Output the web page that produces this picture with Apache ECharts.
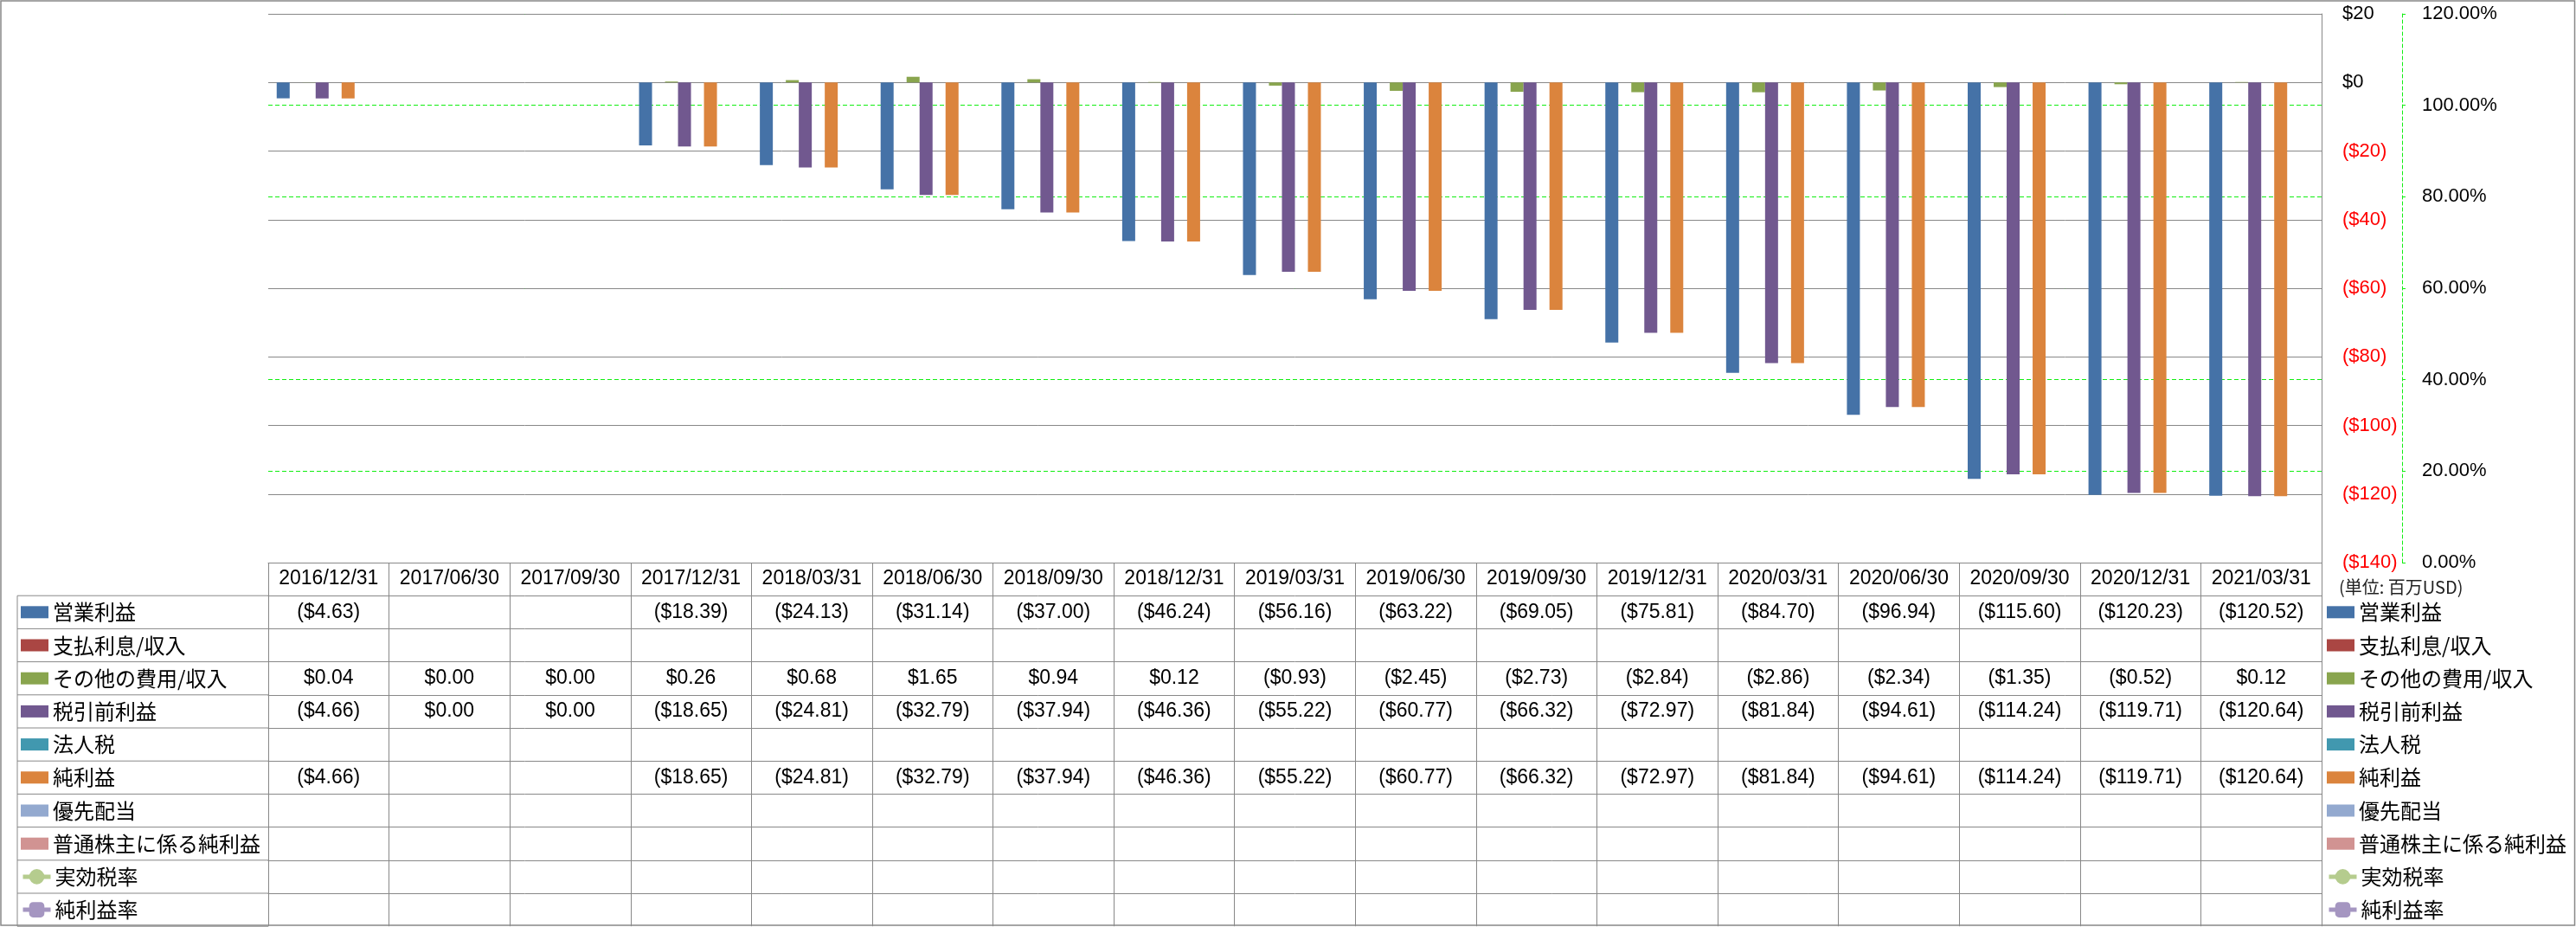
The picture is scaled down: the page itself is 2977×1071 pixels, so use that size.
<!DOCTYPE html>
<html><head><meta charset="utf-8">
<script src="https://cdn.jsdelivr.net/npm/echarts@6/dist/echarts.min.js"></script>
<style>html,body{margin:0;padding:0;background:#fff}#c{width:2977px;height:1071px}</style>
</head><body><div id="c"></div>
<script>
// ---- data ----
const categories = ['2016/12/31','2017/06/30','2017/09/30','2017/12/31','2018/03/31','2018/06/30','2018/09/30','2018/12/31','2019/03/31','2019/06/30','2019/09/30','2019/12/31','2020/03/31','2020/06/30','2020/09/30','2020/12/31','2021/03/31'];
const operatingIncome = [-4.63, null, null, -18.39, -24.13, -31.14, -37.00, -46.24, -56.16, -63.22, -69.05, -75.81, -84.70, -96.94, -115.60, -120.23, -120.52];
const interestExpense = [null, null, null, null, null, null, null, null, null, null, null, null, null, null, null, null, null];
const otherIncome = [0.04, 0.00, 0.00, 0.26, 0.68, 1.65, 0.94, 0.12, -0.93, -2.45, -2.73, -2.84, -2.86, -2.34, -1.35, -0.52, 0.12];
const pretaxIncome = [-4.66, 0.00, 0.00, -18.65, -24.81, -32.79, -37.94, -46.36, -55.22, -60.77, -66.32, -72.97, -81.84, -94.61, -114.24, -119.71, -120.64];
const incomeTax = [null, null, null, null, null, null, null, null, null, null, null, null, null, null, null, null, null];
const netIncome = [-4.66, null, null, -18.65, -24.81, -32.79, -37.94, -46.36, -55.22, -60.77, -66.32, -72.97, -81.84, -94.61, -114.24, -119.71, -120.64];
const preferredDividends = [null, null, null, null, null, null, null, null, null, null, null, null, null, null, null, null, null];
const netIncomeCommon = [null, null, null, null, null, null, null, null, null, null, null, null, null, null, null, null, null];
const effectiveTaxRate = [null, null, null, null, null, null, null, null, null, null, null, null, null, null, null, null, null];
const netMargin = [null, null, null, null, null, null, null, null, null, null, null, null, null, null, null, null, null];

const barNames = ['営業利益','支払利息/収入','その他の費用/収入','税引前利益','法人税','純利益','優先配当','普通株主に係る純利益'];
const lineNames = ['実効税率','純利益率'];
const barData = [operatingIncome, interestExpense, otherIncome, pretaxIncome, incomeTax, netIncome, preferredDividends, netIncomeCommon];
const lineData = [effectiveTaxRate, netMargin];
const barColors = ['#4572a7','#aa4643','#89a54e','#71588f','#4198af','#db843d','#93a9cf','#d19392'];
const lineColors = ['#b5cc8e','#a596c1'];
const lineSymbols = ['circle','roundRect'];

const dollarAxis = {min: -140, max: 20, interval: 20};
const pctAxis = {min: 0, max: 1.2, interval: 0.2};
const unitLabel = '(単位: 百万USD)';

// ---- layout / style ----
const GRAY = '#888888';
const GREEN = '#11ee11';
const FONT = "'Liberation Sans', 'Noto Sans CJK JP', sans-serif";
const JFONT = "'Noto Sans CJK JP', sans-serif";
const PLOT_L = 310, PLOT_R = 2683, PLOT_T = 16, PLOT_B = 650;
const ROW_H = 38.2;
const W = 2977, H = 1071;
const TABLE_FS = 23;

function fmtMoney(v) {
  if (v === null || v === undefined) return '';
  return v < 0 ? '($' + (-v).toFixed(2) + ')' : '$' + v.toFixed(2);
}
function fmtPct(v) {
  if (v === null || v === undefined) return '';
  return (v * 100).toFixed(2) + '%';
}

const rows = barData.concat(lineData);
const xAxes = [{
  type: 'category', data: categories, position: 'bottom', z: 3,
  axisLine: {show: true, onZero: false, lineStyle: {color: GRAY, width: 1}},
  axisTick: {show: true, interval: 0, alignWithLabel: false, length: ROW_H * (rows.length + 1), lineStyle: {color: GRAY, width: 1}},
  splitLine: {show: false},
  axisLabel: {interval: 0, margin: 0, lineHeight: ROW_H, fontSize: TABLE_FS, fontFamily: FONT, color: '#000'}
}];
rows.forEach((arr, k) => {
  xAxes.push({
    type: 'category', data: categories, position: 'bottom', offset: ROW_H * (k + 1), z: 3,
    axisLine: {show: true, onZero: false, lineStyle: {color: GRAY, width: 1}},
    axisTick: {show: false}, splitLine: {show: false},
    axisLabel: {interval: 0, margin: 0, lineHeight: ROW_H, fontSize: TABLE_FS, fontFamily: FONT, color: '#000',
      formatter: (val, idx) => (k >= barData.length ? fmtPct(arr[idx]) : fmtMoney(arr[idx]))}
  });
});

const series = [];
barNames.forEach((n, i) => series.push({
  name: n, type: 'bar', xAxisIndex: 0, yAxisIndex: 0, data: barData[i],
  itemStyle: {color: barColors[i]}, barGap: '0%', barCategoryGap: '14%'
}));
lineNames.forEach((n, i) => series.push({
  name: n, type: 'line', xAxisIndex: 0, yAxisIndex: 1, data: lineData[i],
  symbol: lineSymbols[i], symbolSize: 18, itemStyle: {color: lineColors[i]},
  lineStyle: {color: lineColors[i], width: 5}
}));

const legendText = {fontSize: 24, fontFamily: JFONT, color: '#000', lineHeight: ROW_H};
function legends(left) {
  return [
    {data: barNames, orient: 'vertical', left: left, top: PLOT_B + ROW_H, itemWidth: 32, itemHeight: 14,
     itemGap: 0, padding: 0, icon: 'rect', textStyle: legendText, selectedMode: false},
    {data: lineNames, orient: 'vertical', left: left, top: PLOT_B + ROW_H * (barNames.length + 1), itemWidth: 32, itemHeight: 22,
     itemGap: 0, padding: 0, textStyle: legendText, lineStyle: {width: 5}, selectedMode: false}
  ];
}

const graphics = [{
  type: 'rect', shape: {x: 1, y: 1, width: W - 2.5, height: H - 3}, style: {fill: 'none', stroke: GRAY, lineWidth: 1.5}, silent: true
}, {
  type: 'line', shape: {x1: 20, y1: PLOT_B + ROW_H, x2: 20, y2: PLOT_B + ROW_H * (rows.length + 1)}, style: {stroke: GRAY, lineWidth: 1}, silent: true
}];
for (let k = 1; k <= rows.length + 1; k++) {
  graphics.push({type: 'line', shape: {x1: 20, y1: PLOT_B + ROW_H * k, x2: PLOT_L, y2: PLOT_B + ROW_H * k}, style: {stroke: GRAY, lineWidth: 1}, silent: true});
}

const chart = echarts.init(document.getElementById('c'), null, {renderer: 'canvas', width: W, height: H});
chart.setOption({
  animation: false,
  backgroundColor: '#fff',
  title: {text: unitLabel, left: 2703, top: 667, padding: 0, textStyle: {fontSize: 20, fontWeight: 'normal', fontFamily: JFONT, color: '#222', lineHeight: 22}},
  grid: {left: PLOT_L, right: W - PLOT_R, top: PLOT_T, bottom: H - PLOT_B, containLabel: false},
  legend: legends(24).concat(legends(2689)),
  xAxis: xAxes,
  yAxis: [{
    type: 'value', position: 'right', min: dollarAxis.min, max: dollarAxis.max, interval: dollarAxis.interval, z: 2,
    axisLine: {show: true, lineStyle: {color: GRAY, width: 1}},
    axisTick: {show: false},
    splitLine: {show: true, lineStyle: {color: GRAY, width: 1}},
    axisLabel: {margin: 24, fontSize: 22, fontFamily: FONT,
      color: v => (Number(v) < 0 ? '#ff0000' : '#000'),
      formatter: v => (v < 0 ? '($' + (-v) + ')' : '$' + v)}
  }, {
    type: 'value', position: 'right', offset: 93, min: pctAxis.min, max: pctAxis.max, interval: pctAxis.interval, z: 0,
    axisLine: {show: true, lineStyle: {color: GREEN, width: 1, type: [4, 3]}},
    axisTick: {show: true, length: 4, lineStyle: {color: GREEN}},
    splitLine: {show: true, lineStyle: {color: GREEN, width: 1, type: [5, 3]}},
    axisLabel: {margin: 23, fontSize: 22, fontFamily: FONT, color: '#000', formatter: v => (v * 100).toFixed(2) + '%'}
  }],
  graphic: graphics,
  series: series
});
</script></body></html>
